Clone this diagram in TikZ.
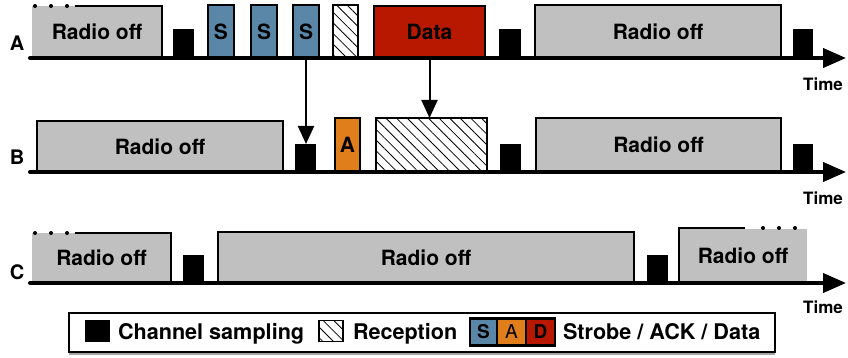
\documentclass[tikz,border=0pt]{standalone}
\usepackage{fontspec}
\setmainfont{TeX Gyre Heros}
\usetikzlibrary{arrows.meta,patterns.meta,shadows}
\definecolor{offgray}{HTML}{C0C0C0}
\definecolor{strobe}{HTML}{5A87A8}
\definecolor{ack}{HTML}{E07E1B}
\definecolor{datared}{HTML}{B91800}
\begin{document}
\begin{tikzpicture}[x=1pt,y=-1pt,
  every node/.style={inner sep=0pt, outer sep=0pt},
  txt/.style={font=\fontsize{21}{24}\selectfont\bfseries},
  legtxt/.style={font=\fontsize{21.6}{24}\selectfont\bfseries},
  edge/.style={line width=2.5pt},
  blk/.style={fill=black, anchor=south west},
  off/.style={fill=offgray, draw, line width=2.5pt, anchor=south west, txt},
  offfill/.style={fill=offgray, anchor=south west, txt},
  pkt/.style={draw, line width=2.5pt, anchor=south west, txt},
  hatch/.style={pattern={Lines[angle=-45,distance=7.5pt,line width=0.8pt]}},
  axis/.style={line width=4pt, line cap=round, -{Triangle[length=23pt,width=19pt]}},
  conn/.style={line width=2pt, -{Triangle[length=18pt,width=16pt]}},
  dotline/.style={line width=4pt, dash pattern=on 0pt off 16pt, line cap=round},
  rowlbl/.style={font=\fontsize{20}{24}\selectfont\bfseries},
  timelbl/.style={font=\fontsize{17}{20}\selectfont\bfseries}
]
\useasboundingbox (0,0) rectangle (848,358);

% ---------- Row A ----------
\node[offfill, minimum width=130pt, minimum height=52pt] (a1) at (32,58) {Radio off};
\draw[edge] ([xshift=43pt]a1.north west) -- (a1.north east) -- (a1.south east);
\draw[dotline] ([xshift=3pt]a1.north west) -- ([xshift=37pt]a1.north west);
\node[blk, minimum width=21pt, minimum height=29pt] (as1) at (173,58) {};
\node[pkt, fill=strobe, minimum width=26pt, minimum height=53pt] (s1) at (208,58) {S};
\node[pkt, fill=strobe, minimum width=26pt, minimum height=53pt] (s2) at (251,58) {S};
\node[pkt, fill=strobe, minimum width=26pt, minimum height=53pt] (s3) at (293,58) {S};
\node[pkt, hatch, minimum width=25pt, minimum height=53pt] (rx) at (333,58) {};
\node[pkt, fill=datared, minimum width=111pt, minimum height=52pt] (data) at (374,58) {Data};
\node[blk, minimum width=22pt, minimum height=29pt] (as2) at (499,58) {};
\node[off, minimum width=246pt, minimum height=53pt] (a2) at (535,58) {Radio off};
\node[blk, minimum width=20pt, minimum height=29pt] (as3) at (793,58) {};
\coordinate (A0) at (30,58);
\coordinate (A1) at (846,58);
\draw[axis] (A0) -- (A1);
\node[rowlbl] (la) at (17,43) {A};
\node[timelbl] (ta) at (823,84) {Time};

% ---------- Row B ----------
\node[off, minimum width=246pt, minimum height=51pt] (b1) at (37,172) {Radio off};
\node[blk, minimum width=21pt, minimum height=28pt] (bs1) at (295,172) {};
\node[pkt, fill=ack, minimum width=25pt, minimum height=54pt] (ackb) at (335,172) {A};
\node[pkt, hatch, minimum width=111pt, minimum height=54pt] (brx) at (376,172) {};
\node[blk, minimum width=21pt, minimum height=28pt] (bs2) at (500,172) {};
\node[off, minimum width=245pt, minimum height=54pt] (b2) at (536,172) {Radio off};
\node[blk, minimum width=20pt, minimum height=28pt] (bs3) at (793,172) {};
\coordinate (B0) at (30,172);
\coordinate (B1) at (846,172);
\draw[axis] (B0) -- (B1);
\node[rowlbl] (lb) at (17,157) {B};
\node[timelbl] (tb) at (823,198) {Time};

% ---------- Row C ----------
\node[offfill, minimum width=139pt, minimum height=50pt] (c1) at (32,283) {Radio off};
\draw[edge] ([xshift=43pt]c1.north west) -- (c1.north east) -- (c1.south east);
\draw[dotline] ([xshift=3pt]c1.north west) -- ([xshift=37pt]c1.north west);
\node[blk, minimum width=21pt, minimum height=28pt] (cs1) at (183,283) {};
\node[off, minimum width=416pt, minimum height=51pt] (c2) at (218,283) {Radio off};
\node[blk, minimum width=21pt, minimum height=28pt] (cs2) at (647,283) {};
\node[offfill, minimum width=128pt, minimum height=54pt] (c3) at (679,283) {Radio off};
\draw[edge] (c3.south west) -- ([yshift=1pt]c3.north west) -- ([xshift=66pt,yshift=1pt]c3.north west);
\draw[dotline] ([xshift=84pt,yshift=1pt]c3.north west) -- ([xshift=118pt,yshift=1pt]c3.north west);
\coordinate (C0) at (30,283);
\coordinate (C1) at (846,283);
\draw[axis] (C0) -- (C1);
\node[rowlbl] (lc) at (17,272) {C};
\node[timelbl] (tc) at (823,307) {Time};

% ---------- Connectors ----------
\draw[conn] (s3.south) -- (s3.south |- bs1.north);
\draw[conn] (data.south) -- (data.south |- brx.north);

% ---------- Legend ----------
\node[draw, line width=1.3pt, fill=white,
      drop shadow={shadow xshift=0pt, shadow yshift=-3pt, opacity=0.35, fill=black},
      minimum width=706pt, minimum height=39pt, anchor=north west] (leg) at (69,313) {};
\node[fill=black, minimum width=25pt, minimum height=22pt, anchor=west] (lg1) at (85,331) {};
\node[legtxt, anchor=base west] (lt1) at (118,339.5) {Channel sampling};
\node[draw, line width=1.2pt, hatch, minimum width=24pt, minimum height=21pt, anchor=west] (lg2) at (319,331) {};
\node[legtxt, anchor=base west] (lt2) at (353,339.5) {Reception};
\node[draw, line width=2.5pt, fill=strobe, minimum width=27pt, minimum height=27pt, anchor=west,
      font=\fontsize{19}{22}\selectfont\bfseries] (lS) at (470,332) {S};
\node[draw, line width=2.5pt, fill=ack, minimum width=29pt, minimum height=27pt, anchor=west,
      font=\fontsize{19}{22}\selectfont] (lA) at (lS.east) {A};
\node[draw, line width=2.5pt, fill=datared, minimum width=29pt, minimum height=27pt, anchor=west,
      font=\fontsize{19}{22}\selectfont\bfseries] (lD) at (lA.east) {D};
\node[legtxt, anchor=base west] (lt3) at (563,339.5) {Strobe / ACK / Data};
\end{tikzpicture}
\end{document}
